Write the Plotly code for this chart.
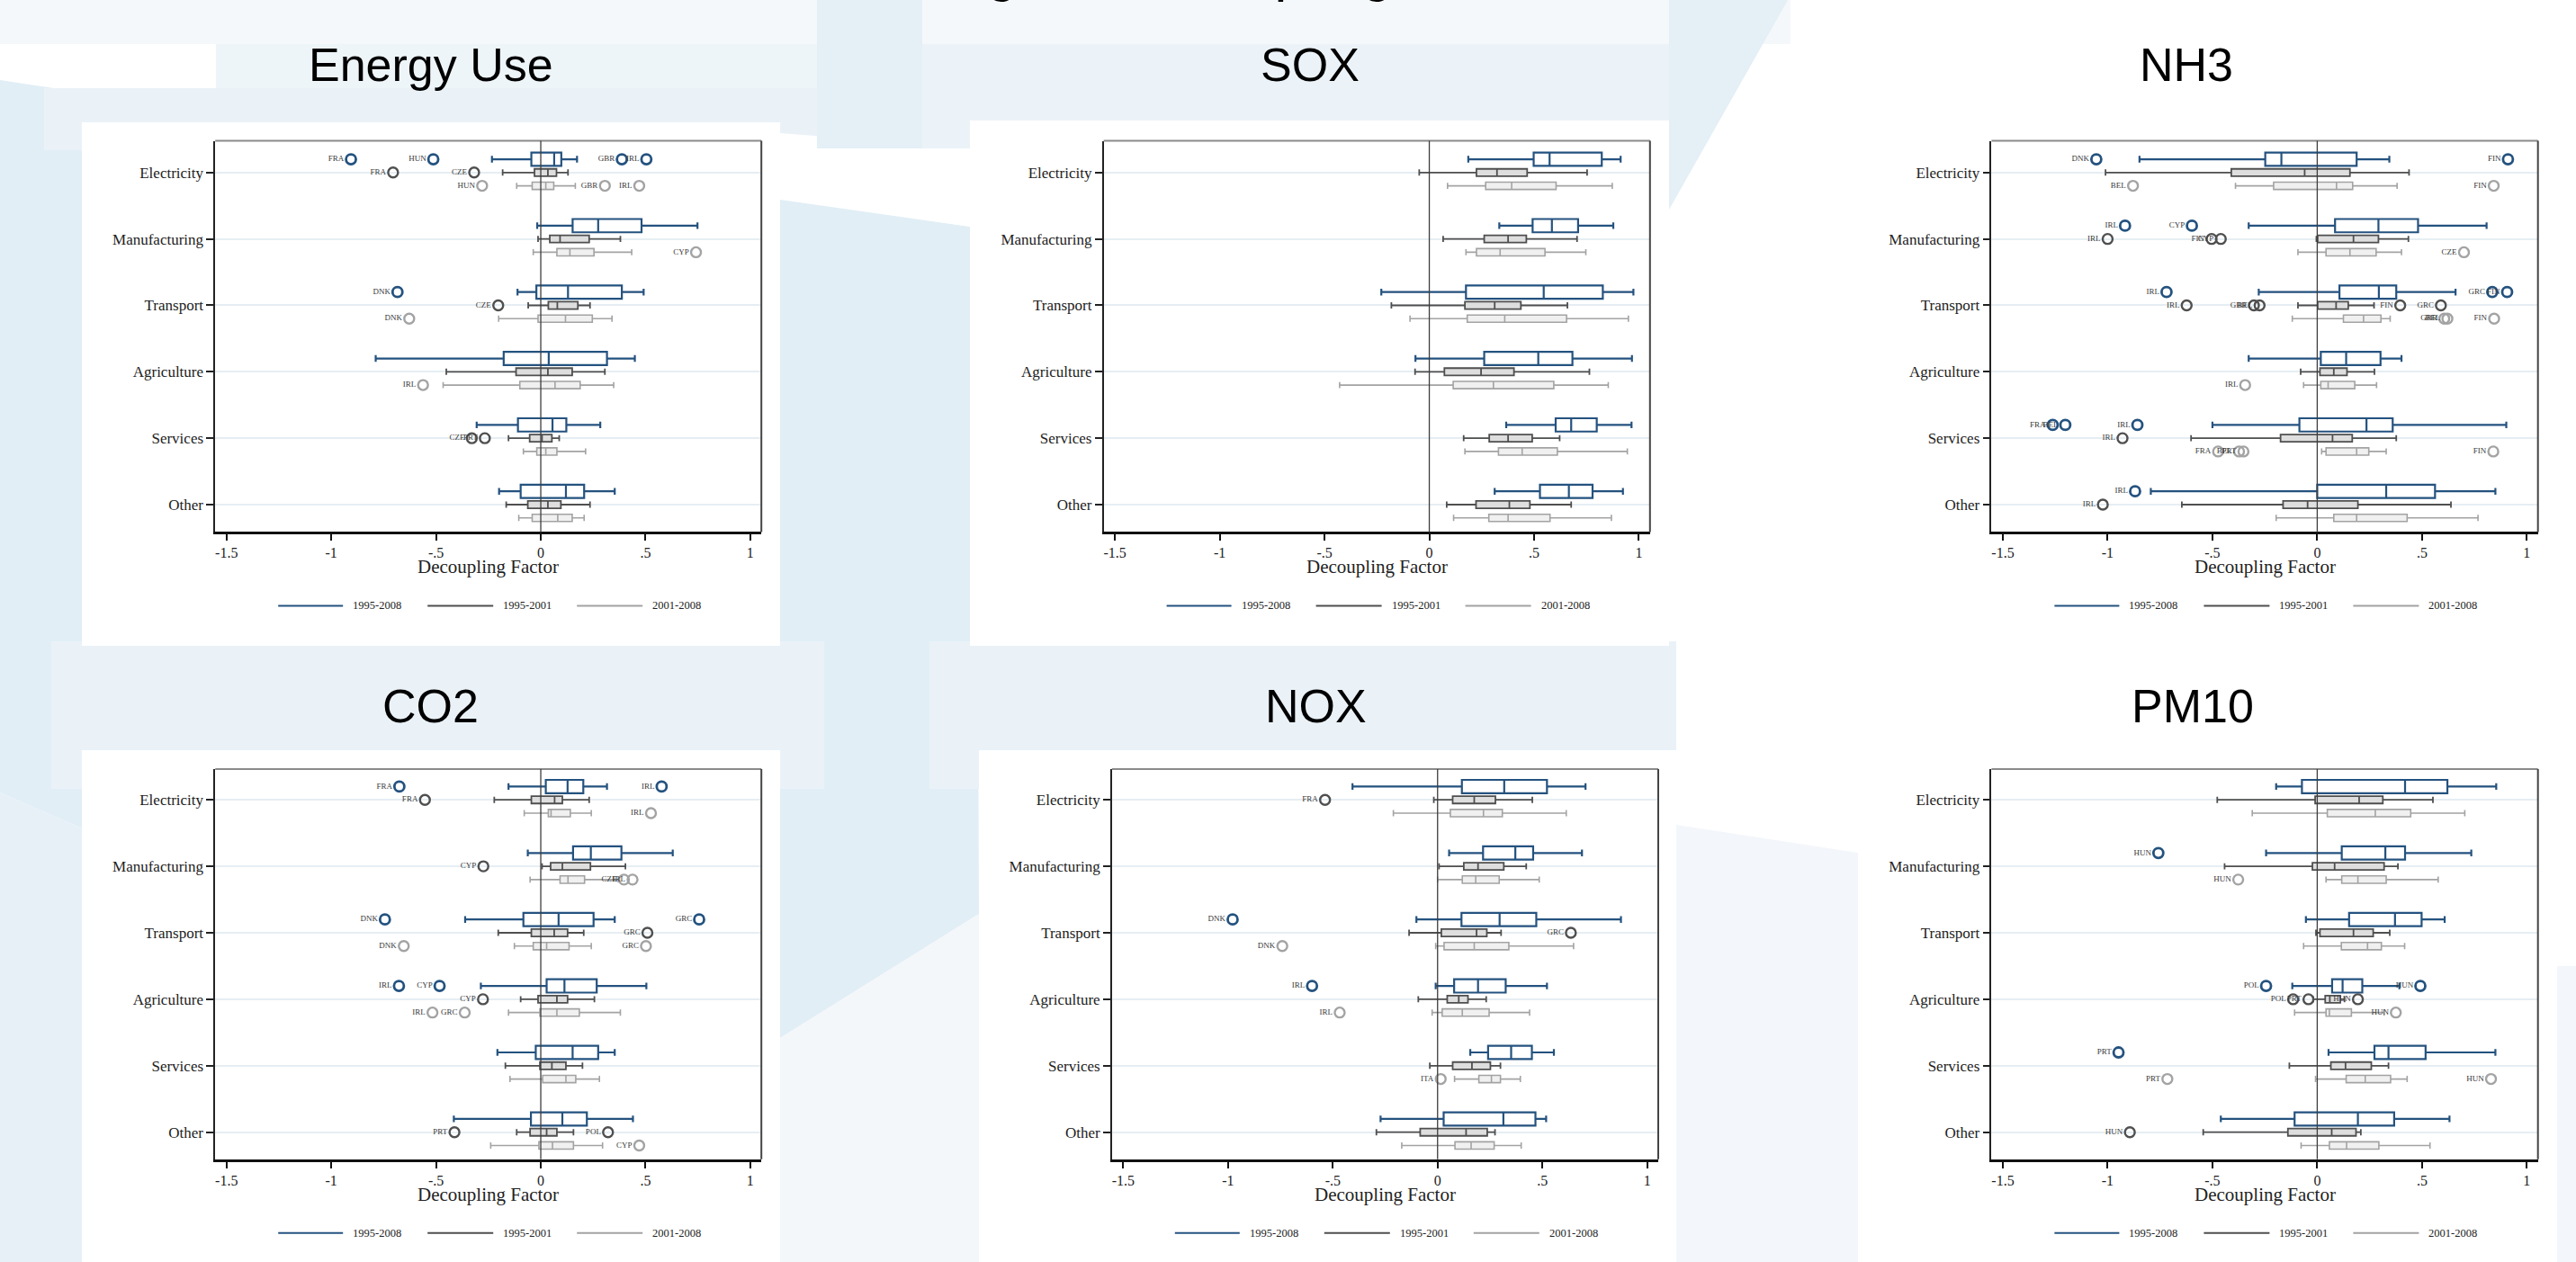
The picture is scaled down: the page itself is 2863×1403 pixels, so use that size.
import plotly.graph_objects as go

W, H = 2863, 1403

SECTORS = ["Electricity", "Manufacturing", "Transport", "Agriculture", "Services", "Other"]
PERIODS = ["1995-2008", "1995-2001", "2001-2008"]
PANEL_TITLES = ["Energy Use", "SOX", "NH3", "CO2", "NOX", "PM10"]
X_TICKS = [-1.5, -1, -0.5, 0, 0.5, 1]
X_TICK_TEXT = ["-1.5", "-1", "-.5", "0", ".5", "1"]
X_TITLE = "Decoupling Factor"
SLIDE_TITLE = "Testing for Decoupling across Sectors"

# Box summaries per sector: (lower whisker, q1, median, q3, upper whisker)
ENERGY_9508 = [(-0.233, -0.045, 0.064, 0.098, 0.173), (-0.017, 0.152, 0.274, 0.481, 0.748),
               (-0.111, -0.021, 0.130, 0.387, 0.491), (-0.788, -0.177, 0.038, 0.316, 0.449),
               (-0.306, -0.109, 0.056, 0.122, 0.284), (-0.199, -0.096, 0.120, 0.207, 0.353)]
ENERGY_9501 = [(-0.182, -0.030, 0.034, 0.075, 0.130), (-0.013, 0.043, 0.092, 0.231, 0.380),
               (-0.060, 0.036, 0.079, 0.177, 0.235), (-0.451, -0.118, 0.034, 0.150, 0.306),
               (-0.154, -0.053, 0.006, 0.053, 0.088), (-0.165, -0.062, 0.034, 0.096, 0.235)]
ENERGY_0108 = [(-0.115, -0.041, 0.024, 0.062, 0.165), (-0.036, 0.077, 0.139, 0.254, 0.434),
               (-0.201, -0.013, 0.118, 0.246, 0.340), (-0.466, -0.100, 0.068, 0.188, 0.348),
               (-0.083, -0.019, 0.024, 0.077, 0.214), (-0.105, -0.041, 0.081, 0.150, 0.207)]

SOX_9508 = [(0.186, 0.498, 0.574, 0.823, 0.913), (0.334, 0.493, 0.585, 0.710, 0.878),
            (-0.229, 0.175, 0.546, 0.828, 0.974), (-0.066, 0.262, 0.520, 0.683, 0.967),
            (0.367, 0.603, 0.677, 0.799, 0.965), (0.312, 0.528, 0.666, 0.779, 0.924)]
SOX_9501 = [(-0.048, 0.225, 0.323, 0.467, 0.753), (0.066, 0.262, 0.376, 0.463, 0.705),
            (-0.181, 0.170, 0.312, 0.437, 0.659), (-0.068, 0.072, 0.247, 0.404, 0.764),
            (0.164, 0.286, 0.376, 0.491, 0.622), (0.083, 0.223, 0.382, 0.480, 0.677)]
SOX_0108 = [(0.087, 0.269, 0.393, 0.605, 0.873), (0.175, 0.225, 0.338, 0.552, 0.747),
            (-0.092, 0.181, 0.360, 0.655, 0.950), (-0.428, 0.114, 0.306, 0.594, 0.854),
            (0.170, 0.330, 0.443, 0.611, 0.945), (0.116, 0.284, 0.376, 0.576, 0.869)]

NH3_9508 = [(-0.848, -0.248, -0.171, 0.188, 0.344), (-0.327, 0.085, 0.292, 0.481, 0.808),
            (-0.279, 0.106, 0.294, 0.377, 0.660), (-0.327, 0.017, 0.138, 0.302, 0.402),
            (-0.500, -0.085, 0.235, 0.360, 0.902), (-0.794, 0.000, 0.329, 0.562, 0.850)]
NH3_9501 = [(-1.010, -0.410, -0.060, 0.156, 0.438), (-0.004, 0.002, 0.173, 0.292, 0.435),
            (-0.092, 0.002, 0.090, 0.148, 0.271), (-0.079, 0.013, 0.079, 0.142, 0.273),
            (-0.602, -0.175, 0.073, 0.167, 0.377), (-0.646, -0.163, -0.046, 0.194, 0.638)]
NH3_0108 = [(-0.390, -0.208, 0.092, 0.169, 0.381), (-0.092, 0.042, 0.156, 0.281, 0.402),
            (-0.119, 0.125, 0.221, 0.304, 0.348), (-0.065, 0.017, 0.052, 0.179, 0.283),
            (0.021, 0.042, 0.188, 0.246, 0.329), (-0.196, 0.079, 0.188, 0.429, 0.767)]

CO2_9508 = [(-0.154, 0.024, 0.128, 0.203, 0.316), (-0.062, 0.154, 0.239, 0.385, 0.630),
            (-0.361, -0.083, 0.085, 0.252, 0.353), (-0.286, 0.028, 0.113, 0.267, 0.504),
            (-0.207, -0.024, 0.152, 0.274, 0.353), (-0.415, -0.047, 0.103, 0.220, 0.440)]
CO2_9501 = [(-0.222, -0.045, 0.066, 0.103, 0.231), (0.006, 0.047, 0.103, 0.237, 0.404),
            (-0.203, -0.045, 0.064, 0.128, 0.205), (-0.096, -0.013, 0.077, 0.128, 0.256),
            (-0.169, -0.004, 0.053, 0.120, 0.199), (-0.115, -0.051, 0.028, 0.077, 0.156)]
CO2_0108 = [(-0.079, 0.036, 0.049, 0.141, 0.241), (-0.051, 0.092, 0.130, 0.209, 0.370),
            (-0.126, -0.036, 0.028, 0.135, 0.241), (-0.154, -0.004, 0.077, 0.184, 0.380),
            (-0.147, 0.009, 0.120, 0.167, 0.280), (-0.239, -0.009, 0.056, 0.156, 0.295)]

NOX_9508 = [(-0.406, 0.116, 0.318, 0.522, 0.706), (0.055, 0.217, 0.371, 0.456, 0.689),
            (-0.101, 0.114, 0.296, 0.471, 0.875), (-0.009, 0.079, 0.193, 0.325, 0.522),
            (0.156, 0.241, 0.351, 0.450, 0.555), (-0.272, 0.029, 0.314, 0.467, 0.518)]
NOX_9501 = [(-0.018, 0.072, 0.175, 0.276, 0.452), (0.007, 0.125, 0.193, 0.316, 0.423),
            (-0.136, 0.018, 0.186, 0.235, 0.303), (-0.092, 0.046, 0.101, 0.145, 0.232),
            (-0.037, 0.072, 0.164, 0.252, 0.300), (-0.292, -0.083, 0.136, 0.237, 0.274)]
NOX_0108 = [(-0.211, 0.061, 0.219, 0.309, 0.614), (0.000, 0.118, 0.182, 0.294, 0.485),
            (-0.009, 0.031, 0.175, 0.340, 0.649), (-0.026, 0.022, 0.118, 0.246, 0.439),
            (0.081, 0.197, 0.257, 0.300, 0.395), (-0.171, 0.083, 0.160, 0.270, 0.399)]

PM10_9508 = [(-0.196, -0.073, 0.419, 0.621, 0.854), (-0.244, 0.117, 0.325, 0.419, 0.735),
             (-0.054, 0.152, 0.371, 0.498, 0.608), (-0.119, 0.071, 0.121, 0.215, 0.392),
             (0.054, 0.273, 0.340, 0.517, 0.850), (-0.460, -0.108, 0.194, 0.367, 0.631)]
PM10_9501 = [(-0.477, -0.010, 0.200, 0.313, 0.552), (-0.442, -0.023, 0.083, 0.319, 0.385),
             (-0.006, 0.013, 0.173, 0.267, 0.346), (-0.019, 0.038, 0.060, 0.110, 0.130),
             (-0.133, 0.065, 0.135, 0.258, 0.340), (-0.544, -0.140, 0.069, 0.185, 0.208)]
PM10_0108 = [(-0.310, 0.048, 0.277, 0.446, 0.704), (0.042, 0.117, 0.194, 0.329, 0.577),
             (-0.065, 0.115, 0.240, 0.306, 0.417), (-0.108, 0.042, 0.058, 0.163, 0.319),
             (-0.008, 0.138, 0.229, 0.350, 0.429), (-0.077, 0.058, 0.140, 0.294, 0.538)]

# Outlying countries: (period index, sector index, value, country code)
ENERGY_OUT = [(0, 0, -0.906, "FRA"), (0, 0, -0.513, "HUN"), (0, 0, 0.387, "GBR"), (0, 0, 0.504, "IRL"),
              (1, 0, -0.705, "FRA"), (1, 0, -0.318, "CZE"),
              (2, 0, -0.280, "HUN"), (2, 0, 0.306, "GBR"), (2, 0, 0.470, "IRL"),
              (2, 1, 0.741, "CYP"),
              (0, 2, -0.684, "DNK"), (1, 2, -0.203, "CZE"), (2, 2, -0.628, "DNK"),
              (2, 3, -0.562, "IRL"),
              (1, 4, -0.329, "CZE"), (1, 4, -0.267, "PRT")]
SOX_OUT = []
NH3_OUT = [(0, 0, -1.054, "DNK"), (0, 0, 0.910, "FIN"), (2, 0, -0.879, "BEL"), (2, 0, 0.842, "FIN"),
           (0, 1, -0.917, "IRL"), (0, 1, -0.598, "CYP"), (1, 1, -1.000, "IRL"), (1, 1, -0.504, "FIN"),
           (1, 1, -0.460, "CYP"), (2, 1, 0.700, "CZE"),
           (0, 2, -0.719, "IRL"), (0, 2, 0.835, "GRC"), (0, 2, 0.906, "FIN"), (1, 2, -0.623, "IRL"),
           (1, 2, -0.302, "GBR"), (1, 2, -0.275, "BEL"), (1, 2, 0.396, "FIN"), (1, 2, 0.590, "GRC"),
           (2, 2, 0.606, "GBR"), (2, 2, 0.621, "BEL"), (2, 2, 0.844, "FIN"),
           (2, 3, -0.344, "IRL"),
           (0, 4, -1.262, "FRA"), (0, 4, -1.202, "BEL"), (0, 4, -0.858, "IRL"), (1, 4, -0.929, "IRL"),
           (2, 4, -0.473, "FRA"), (2, 4, -0.373, "BEL"), (2, 4, -0.352, "PRT"), (2, 4, 0.840, "FIN"),
           (0, 5, -0.869, "IRL"), (1, 5, -1.023, "IRL")]
CO2_OUT = [(0, 0, -0.675, "FRA"), (0, 0, 0.577, "IRL"), (1, 0, -0.553, "FRA"), (2, 0, 0.526, "IRL"),
           (1, 1, -0.274, "CYP"), (2, 1, 0.397, "CZE"), (2, 1, 0.438, "IRL"),
           (0, 2, -0.744, "DNK"), (0, 2, 0.756, "GRC"), (1, 2, 0.509, "GRC"), (2, 2, -0.654, "DNK"),
           (2, 2, 0.502, "GRC"),
           (0, 3, -0.677, "IRL"), (0, 3, -0.483, "CYP"), (1, 3, -0.276, "CYP"), (2, 3, -0.517, "IRL"),
           (2, 3, -0.363, "GRC"),
           (1, 5, -0.412, "PRT"), (1, 5, 0.321, "POL"), (2, 5, 0.470, "CYP")]
NOX_OUT = [(1, 0, -0.537, "FRA"), (0, 2, -0.978, "DNK"), (1, 2, 0.636, "GRC"), (2, 2, -0.741, "DNK"),
           (0, 3, -0.599, "IRL"), (2, 3, -0.467, "IRL"), (2, 4, 0.015, "ITA")]
PM10_OUT = [(0, 1, -0.758, "HUN"), (2, 1, -0.377, "HUN"),
            (0, 3, -0.244, "POL"), (0, 3, 0.492, "HUN"), (1, 3, -0.115, "POL"), (1, 3, -0.042, "PRT"),
            (1, 3, 0.194, "HUN"), (2, 3, 0.375, "HUN"),
            (0, 4, -0.948, "PRT"), (2, 4, -0.715, "PRT"), (2, 4, 0.829, "HUN"),
            (1, 5, -0.894, "HUN")]

PANEL_STATS = [(ENERGY_9508, ENERGY_9501, ENERGY_0108), (SOX_9508, SOX_9501, SOX_0108),
               (NH3_9508, NH3_9501, NH3_0108), (CO2_9508, CO2_9501, CO2_0108),
               (NOX_9508, NOX_9501, NOX_0108), (PM10_9508, PM10_9501, PM10_0108)]
PANEL_OUT = [ENERGY_OUT, SOX_OUT, NH3_OUT, CO2_OUT, NOX_OUT, PM10_OUT]

# ---------------------------------------------------------------- layout geometry (pixels)
FRAMES = [(239.2, 846.2, 156.6, 591.4), (1226.6, 1833.8, 156.6, 591.4), (2213.4, 2820.7, 156.6, 591.4),
          (239.2, 846.2, 854.9, 1288.7), (1235.8, 1843.0, 854.9, 1288.7), (2213.4, 2820.7, 854.9, 1288.7)]
TITLE_POS = [(479, 72), (1456, 72), (2430, 72), (478, 785), (1462, 785), (2437, 785)]
X_RANGE = [-1.554, 1.053]
Y_RANGES = [[-0.412, 5.477], [-0.412, 5.477], [-0.412, 5.477],
            [-0.406, 5.464], [-0.406, 5.464], [-0.406, 5.464]]

LINE_COL = ["#24527f", "#4f4f4f", "#a3a3a3"]
FILL_COL = ["#ffffff", "#dedede", "#f0f0f0"]
BOX_W = [0.2, 0.11, 0.11]
LINE_W = [2.2, 1.8, 1.6]
WHISK_W = [0.5, 0.85, 0.85]
OFFSET = [0.2, 0.0, -0.2]
SERIF = "Liberation Serif"
SANS = "Liberation Sans"


def fx(x):
    return x / W


def fy(y):
    return 1 - y / H


def path(points):
    return "M" + " L".join(f"{fx(x):.6f},{fy(y):.6f}" for x, y in points) + " Z"


fig = go.Figure()
shapes = []
annotations = []

# ---------------------------------------------------------------- slide background
BACKGROUND = [
    ([(0, 0), (1990, 0), (1990, 49), (0, 49)], "#f5f8fb"),
    ([(0, 89), (1085, 253), (1088, 1016), (867, 1154), (91, 921), (0, 881)], "#e1eef6"),
    ([(0, 881), (91, 921), (91, 1403), (0, 1403)], "#e7f0f7"),
    ([(867, 1154), (1088, 1016), (1088, 1403), (867, 1403)], "#f3f7fa"),
    ([(49, 98), (913, 98), (913, 167), (49, 167)], "#eaf2f8"),
    ([(240, 49), (913, 49), (913, 98), (240, 98)], "#eef5f9"),
    ([(867, 148), (1085, 165), (1085, 253), (867, 222)], "#ffffff"),
    ([(908, 0), (1025, 0), (1025, 165), (908, 165)], "#e4eff6"),
    ([(1025, 49), (1855, 49), (1855, 165), (1025, 165)], "#ecf3f8"),
    ([(1855, 0), (1987, 0), (1855, 233)], "#e4eff6"),
    ([(57, 713), (916, 713), (916, 877), (57, 877)], "#eaf2f8"),
    ([(1033, 713), (1863, 713), (1863, 877), (1033, 877)], "#eaf2f8"),
    ([(1863, 917), (2065, 948), (2065, 1403), (1863, 1403)], "#f3f6fa"),
    ([(2842, 1074), (2863, 1074), (2863, 1403), (2842, 1403)], "#f3f6fa"),
    # white chart cards
    ([(91, 136), (867, 136), (867, 718), (91, 718)], "#ffffff"),
    ([(1078, 134), (1855, 134), (1855, 718), (1078, 718)], "#ffffff"),
    ([(91, 834), (867, 834), (867, 1403), (91, 1403)], "#ffffff"),
    ([(1088, 834), (1863, 834), (1863, 1403), (1088, 1403)], "#ffffff"),
]
for pts, col in BACKGROUND:
    shapes.append(dict(type="path", path=path(pts), xref="paper", yref="paper",
                       fillcolor=col, line=dict(width=0), layer="below"))

annotations.append(dict(text=SLIDE_TITLE, x=fx(932), y=fy(4), xref="paper", yref="paper",
                        xanchor="left", yanchor="bottom", showarrow=False,
                        font=dict(family=SANS, size=62, color="#000000")))

# ---------------------------------------------------------------- panels
layout_axes = {}
for k in range(6):
    left, right, top, bottom = FRAMES[k]
    sfx = "" if k == 0 else str(k + 1)
    xa, ya = "x" + sfx, "y" + sfx

    layout_axes["xaxis" + sfx] = dict(
        domain=[fx(left), fx(right)], range=X_RANGE, anchor=ya,
        tickvals=X_TICKS, ticktext=X_TICK_TEXT, ticks="outside", ticklen=7, tickwidth=2,
        tickcolor="#111111", showline=True, linecolor="#111111", linewidth=2.6,
        showgrid=False, zeroline=False, fixedrange=True,
        tickfont=dict(family=SERIF, size=16, color="#222222"))
    layout_axes["yaxis" + sfx] = dict(
        domain=[fy(bottom), fy(top)], range=Y_RANGES[k], anchor=xa,
        tickvals=list(range(6)), ticktext=SECTORS[::-1], ticks="outside", ticklen=8,
        tickwidth=2, tickcolor="#222222", showline=True, linecolor="#222222", linewidth=1.5,
        showgrid=True, gridcolor="#e6eef3", gridwidth=2, zeroline=False, fixedrange=True,
        tickfont=dict(family=SERIF, size=17, color="#222222"))

    # boxes for the three periods
    for p in range(3):
        stats = PANEL_STATS[k][p]
        pos = [5 - s + OFFSET[p] for s in range(6)]
        fig.add_trace(go.Box(
            y=pos, lowerfence=[r[0] for r in stats], q1=[r[1] for r in stats],
            median=[r[2] for r in stats], q3=[r[3] for r in stats],
            upperfence=[r[4] for r in stats], orientation="h", width=BOX_W[p],
            whiskerwidth=WHISK_W[p], boxpoints=False, fillcolor=FILL_COL[p],
            line=dict(color=LINE_COL[p], width=LINE_W[p]), name=PERIODS[p],
            xaxis=xa, yaxis=ya, showlegend=False, hoverinfo="skip"))

    # outlying countries
    for p in range(3):
        pts = [o for o in PANEL_OUT[k] if o[0] == p]
        if not pts:
            continue
        fig.add_trace(go.Scatter(
            x=[o[2] for o in pts], y=[5 - o[1] + OFFSET[p] for o in pts],
            text=[o[3] for o in pts], mode="markers+text", textposition="middle left",
            textfont=dict(family=SERIF, size=9, color="#3a3a3a"),
            marker=dict(symbol="circle-open", size=11, color=LINE_COL[p],
                        line=dict(width=2.8 if p == 0 else 2.4, color=LINE_COL[p])),
            xaxis=xa, yaxis=ya, showlegend=False, hoverinfo="skip", cliponaxis=False))

    # frame: top and right edges, reference line at zero
    shapes.append(dict(type="line", xref="paper", yref="paper", x0=fx(left), x1=fx(right),
                       y0=fy(top), y1=fy(top), line=dict(color="#8a8a8a", width=2), layer="above"))
    shapes.append(dict(type="line", xref="paper", yref="paper", x0=fx(right), x1=fx(right),
                       y0=fy(top), y1=fy(bottom), line=dict(color="#444444", width=2), layer="above"))
    shapes.append(dict(type="line", xref=xa, yref=ya + " domain", x0=0, x1=0, y0=0, y1=1,
                       line=dict(color="#3d3d3d", width=1.3), layer="above"))

    # axis title
    annotations.append(dict(text=X_TITLE, x=fx((left + right) / 2), y=fy(bottom + 39),
                            xref="paper", yref="paper", xanchor="center", yanchor="middle",
                            showarrow=False, font=dict(family=SERIF, size=21, color="#222222")))
    # panel title
    tx, ty = TITLE_POS[k]
    annotations.append(dict(text=PANEL_TITLES[k], x=fx(tx), y=fy(ty), xref="paper", yref="paper",
                            xanchor="center", yanchor="middle", showarrow=False,
                            font=dict(family=SANS, size=52, color="#000000")))
    # legend keys
    ly = bottom + 82
    for p, (a, b, c) in enumerate([(70, 142, 180), (236, 309, 347), (402, 475, 513)]):
        shapes.append(dict(type="line", xref="paper", yref="paper", x0=fx(left + a), x1=fx(left + b),
                           y0=fy(ly), y1=fy(ly), line=dict(color=LINE_COL[p], width=2)))
        annotations.append(dict(text=PERIODS[p], x=fx(left + c), y=fy(ly), xref="paper",
                                yref="paper", xanchor="center", yanchor="middle", showarrow=False,
                                font=dict(family=SERIF, size=12.5, color="#222222")))

fig.update_layout(
    width=W, height=H, margin=dict(l=0, r=0, t=0, b=0),
    paper_bgcolor="#ffffff", plot_bgcolor="#ffffff",
    showlegend=False, hovermode=False, boxmode="overlay",
    shapes=shapes, annotations=annotations, **layout_axes)

fig.write_html("out.html")
